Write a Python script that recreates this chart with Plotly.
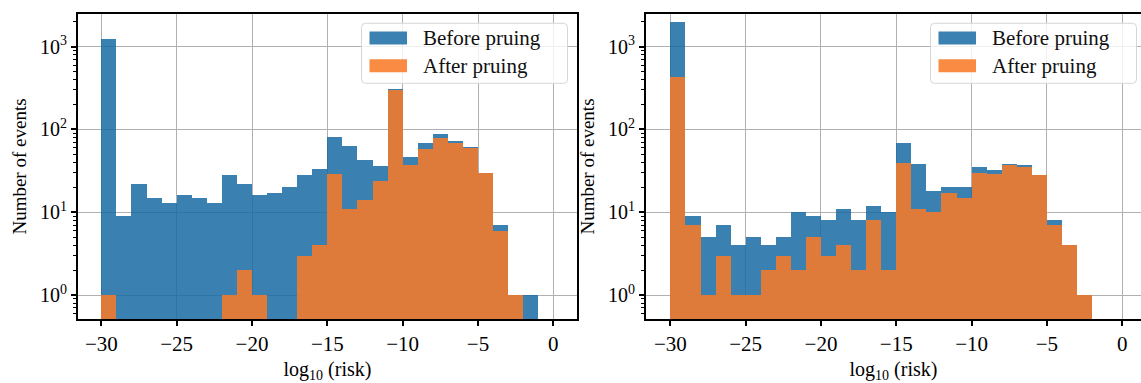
import numpy as np
import plotly.graph_objects as go

# ---------------- data ----------------
left_bin_lefts = list(range(-30, -1))          # -30 .. -2, width 1
left_before = [1238, 9, 22, 15, 13, 16, 15, 13, 28, 22, 16, 17, 20, 28, 33,
               81, 63, 43, 36, 310, 47, 68, 87, 73, 62, 30, 7, 1, 1]
left_after = [1, 0, 0, 0, 0, 0, 0, 0, 1, 2, 1, 0, 0, 3, 4,
              29, 11, 14, 24, 302, 37, 58, 78, 68, 60, 30, 6, 1, 0]

right_bin_lefts = list(range(-30, -2))         # -30 .. -3, width 1
right_before = [1969, 9, 5, 7, 4, 5, 4, 5, 10, 9, 8, 11, 8, 12, 10,
                68, 38, 18, 20, 20, 35, 32, 38, 37, 28, 8, 4, 1]
right_after = [426, 7, 1, 3, 1, 1, 2, 3, 2, 5, 3, 4, 2, 8, 2,
               39, 11, 10, 17, 15, 30, 29, 37, 35, 28, 7, 4, 1]

series_names = ["Before pruing", "After pruing"]
x_tick_vals = [-30, -25, -20, -15, -10, -5, 0]
x_tick_text = ["\u221230", "\u221225", "\u221220", "\u221215", "\u221210", "\u22125", "0"]
y_tick_vals = [1, 10, 100, 1000]
y_tick_text = ["10<sup>0</sup>", "10<sup>1</sup>", "10<sup>2</sup>", "10<sup>3</sup>"]

# ---------------- style ----------------
W, H = 1141, 383
ML, MT, MB = 78, 14, 64
PW = W - ML
FONT = "Liberation Serif"
BLUE = "rgba(23,107,164,0.85)"
ORANGE = "rgba(253,122,36,0.85)"
LEG_BLUE = "#3b82b3"
LEG_ORANGE = "#f98c42"
GRID = "#b0b0b0"


def px_x(p):
    return (p - ML) / PW


def px_y(p):
    return 1 - (p - MT) / (H - MT - MB)


def clean(vals):
    return [v if v > 0 else None for v in vals]


fig = go.Figure()

panels = [
    (left_bin_lefts, left_before, left_after, "x", "y"),
    (right_bin_lefts, right_before, right_after, "x2", "y2"),
]
for lefts, before, after, xa, ya in panels:
    centers = np.array(lefts) + 0.5
    fig.add_trace(go.Bar(x=centers, y=clean(before), width=1.0, name=series_names[0],
                         marker=dict(color=BLUE, line=dict(width=0)),
                         xaxis=xa, yaxis=ya, showlegend=False))
    fig.add_trace(go.Bar(x=centers, y=clean(after), width=1.0, name=series_names[1],
                         marker=dict(color=ORANGE, line=dict(width=0)),
                         xaxis=xa, yaxis=ya, showlegend=False))

common_x = dict(
    tickmode="array", tickvals=x_tick_vals, ticktext=x_tick_text,
    ticks="outside", ticklen=5, tickwidth=1.5, tickcolor="black",
    showline=True, linecolor="black", linewidth=2, mirror=True,
    showgrid=True, gridcolor=GRID, gridwidth=1, zeroline=False, automargin=False,
    tickfont=dict(family=FONT, size=21, color="black"),
    title=dict(text="log<sub>10</sub> (risk)", font=dict(family=FONT, size=20, color="black"),
               standoff=12),
)
common_y = dict(
    type="log", range=[-0.29, 3.395], domain=[0, 1],
    tickmode="array", tickvals=y_tick_vals, ticktext=y_tick_text,
    ticks="outside", ticklen=5, tickwidth=1.5, tickcolor="black",
    minor=dict(ticks="outside", ticklen=3, tickwidth=1, tickcolor="black",
               tickvals=[m * 10 ** e for e in range(-1, 4) for m in range(2, 10)],
               showgrid=False),
    showline=True, linecolor="black", linewidth=2, automargin=False,
    showgrid=True, gridcolor=GRID, gridwidth=1, zeroline=False,
    tickfont=dict(family=FONT, size=20, color="black"),
    title=dict(text="Number of events", font=dict(family=FONT, size=19, color="black"),
               standoff=8),
)

fig.update_layout(
    width=W, height=H, margin=dict(l=ML, r=0, t=MT, b=MB, autoexpand=False),
    paper_bgcolor="white", plot_bgcolor="white",
    barmode="overlay", bargap=0,
    xaxis=dict(common_x, domain=[px_x(78), px_x(577)], range=[-31.55, 1.57], anchor="y"),
    yaxis=dict(common_y, anchor="x", mirror=True),
    xaxis2=dict(common_x, domain=[px_x(646), 1.0], range=[-31.62, 1.25], anchor="y2"),
    yaxis2=dict(common_y, anchor="x2", mirror=False),
    font=dict(family=FONT, color="black"),
)

# ---------------- manual legends ----------------
shapes = []
annotations = []
for L in (361.5, 930.5):
    R = L + 206
    T, B = 23.3, 83.3
    r = 4
    path = (f"M {px_x(L + r)},{px_y(T)} L {px_x(R - r)},{px_y(T)} "
            f"Q {px_x(R)},{px_y(T)} {px_x(R)},{px_y(T + r)} "
            f"L {px_x(R)},{px_y(B - r)} Q {px_x(R)},{px_y(B)} {px_x(R - r)},{px_y(B)} "
            f"L {px_x(L + r)},{px_y(B)} Q {px_x(L)},{px_y(B)} {px_x(L)},{px_y(B - r)} "
            f"L {px_x(L)},{px_y(T + r)} Q {px_x(L)},{px_y(T)} {px_x(L + r)},{px_y(T)} Z")
    shapes.append(dict(type="path", xref="paper", yref="paper", path=path,
                       fillcolor="rgba(255,255,255,0.8)",
                       line=dict(color="#d6d6d6", width=1), layer="above"))
    for (cy, col, name) in ((38.0, LEG_BLUE, series_names[0]), (65.7, LEG_ORANGE, series_names[1])):
        shapes.append(dict(type="rect", xref="paper", yref="paper",
                           x0=px_x(L + 8), x1=px_x(L + 45.5),
                           y0=px_y(cy - 6.5), y1=px_y(cy + 6.5),
                           fillcolor=col, line=dict(width=0), layer="above"))
        annotations.append(dict(xref="paper", yref="paper", x=px_x(L + 59), y=px_y(cy),
                                xanchor="left", yanchor="middle", showarrow=False,
                                text=name, font=dict(family=FONT, size=21, color="#111111")))

fig.update_layout(shapes=shapes, annotations=annotations)

fig.write_html("out.html", config={"displayModeBar": False},
               post_script="document.body.style.margin='0';document.body.style.overflow='hidden';")
